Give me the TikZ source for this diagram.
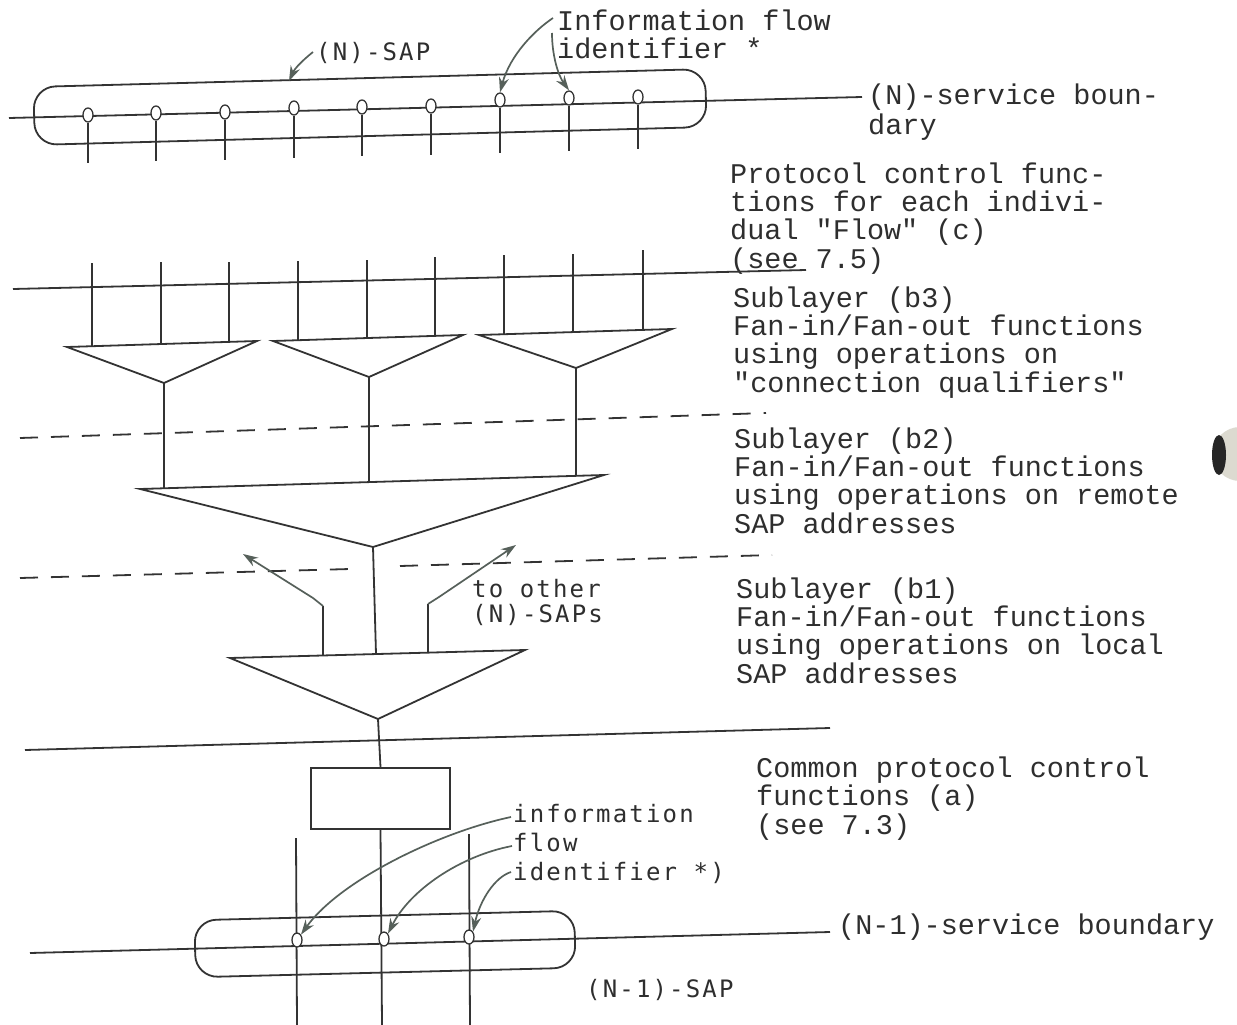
\documentclass[tikz,border=0pt]{standalone}
\usepackage{fontspec}
\usetikzlibrary{shapes.geometric,arrows.meta}
\newfontfamily\cfam{Liberation Mono}
\newfontfamily\gfam{DejaVu Sans Mono}[LetterSpace=9]
\newcommand\cfnt{\cfam\fontsize{28.5}{28.3}\selectfont}
\newcommand\gfnt{\gfam\fontsize{24}{29}\selectfont}
\definecolor{linec}{HTML}{333333}
\definecolor{txtc}{HTML}{2E2E2E}
\definecolor{arrc}{HTML}{56605A}
\definecolor{holec}{HTML}{DCDAD0}
\begin{document}
\begin{tikzpicture}[x=1pt,y=-1pt,
  ln/.style={line width=1.8pt, draw=linec},
  dl/.style={line width=1.8pt, draw=linec, dash pattern=on 18pt off 13pt},
  arr/.style={line width=1.7pt, draw=arrc, -{Stealth[length=15pt,width=10pt]}},
  ctext/.style={font=\cfnt, text=txtc, inner sep=0pt, anchor=base west, align=left},
  gtext/.style={font=\gfnt, text=txtc, inner sep=0pt, anchor=base west, align=left},
  zero/.style={ellipse, draw=linec, line width=1.3pt, fill=white, minimum width=10pt, minimum height=14pt, inner sep=0pt},
  sap/.style={rectangle, draw=linec, line width=1.8pt, rounded corners=22pt, inner sep=0pt},
  boxst/.style={rectangle, draw=linec, line width=1.8pt, inner sep=0pt}]
\fill[white] (0,0) rectangle (1237,1025);
\useasboundingbox (0,0) rectangle (1237,1025);
% punch hole
\fill[holec] (1240,454) circle (27pt);
\fill[black!85] (1219,455) ellipse [x radius=7pt, y radius=20pt];

% ===== top (N)-SAP =====
\node[sap, minimum width=672pt, minimum height=58pt, rotate=1.53] (nsap) at (370,107) {};
\coordinate (nb1) at (9,118);
\coordinate (nb2) at (862,97);
\draw[ln] (nb1) -- (nb2);
\foreach \x/\y/\i in {88/115/1,156/113/2,225/112/3,294/108/4,362/107/5,431/106/6,500/100/7,569/98/8,638/97/9}{
  \pgfmathsetmacro\yb{163-0.0246*(\x-88)}
  \coordinate (zb\i) at (\x,\yb);
  \node[zero] (z\i) at (\x,\y) {};
  \draw[ln] (z\i.south) -- (zb\i);
}
\node[ctext] (nsb) at (868,134) {(N)-service boun-\\[1.5pt]dary};
\node[gtext] (nsaplbl) at (316,60) {(N)-SAP};
\coordinate (nsapt) at (313,52);
\coordinate (nsaph) at (289,81);
\draw[arr] (nsapt) .. controls (303,60) and (295,68) .. (nsaph);
\node[ctext, font=\cfam\fontsize{28.5}{28}\selectfont] (info) at (557,59) {Information flow\\identifier *};
\coordinate (it1) at (553,18);
\coordinate (it2) at (552,33);
\draw[arr] (it1) .. controls (535,30) and (510,55) .. (z7.north);
\draw[arr] (it2) .. controls (552,55) and (558,75) .. (z8.north);

% ===== protocol control functions text =====
\node[ctext] (pcf) at (730,268) {Protocol control func-\\tions for each indivi-\\dual "Flow" (c)\\(see 7.5)};

% ===== b3 =====
\coordinate (b3l) at (13,289);
\coordinate (b3r) at (806,270);
\draw[ln] (b3l) -- (b3r);
% triangles
\coordinate (t1a) at (67,347); \coordinate (t1b) at (257,341); \coordinate (t1c) at (164,383);
\coordinate (t2a) at (273,341); \coordinate (t2b) at (463,335); \coordinate (t2c) at (369,377);
\coordinate (t3a) at (479,335); \coordinate (t3b) at (672,329); \coordinate (t3c) at (576,368);
\draw[ln, line join=miter] (t1a) -- (t1b) -- (t1c) -- cycle;
\draw[ln, line join=miter] (t2a) -- (t2b) -- (t2c) -- cycle;
\draw[ln, line join=miter] (t3a) -- (t3b) -- (t3c) -- cycle;
\foreach \x/\yt/\yb/\i in {92/263/346.2/1,161/262/344/2,229/262/341.9/3,298/261/340.2/4,367/260/338/5,435/257/335.9/6,504/255/334.2/7,573/254/332.1/8,643/250/329.9/9}{
  \coordinate (vt\i) at (\x,\yt);
  \coordinate (vb\i) at (\x,\yb);
  \draw[ln] (vt\i) -- (vb\i);
}
\node[ctext] (b3t) at (733,392) {Sublayer (b3)\\Fan-in/Fan-out functions\\using operations on\\"connection qualifiers"};

% dashed 1
\coordinate (d1a) at (20,438);
\coordinate (d1b) at (766,413);
\draw[dl] (d1a) -- (d1b);

% ===== b2 =====
\coordinate (b2a) at (140,489); \coordinate (b2b) at (604,475); \coordinate (b2c) at (373,547);
\draw[ln, line join=miter] (b2a) -- (b2b) -- (b2c) -- cycle;
\coordinate (m1) at (164,488.2); \coordinate (m2) at (369,482.1); \coordinate (m3) at (576,475.8);
\draw[ln] (t1c) -- (m1);
\draw[ln] (t2c) -- (m2);
\draw[ln] (t3c) -- (m3);
\node[ctext] (b2t) at (734,533) {Sublayer (b2)\\Fan-in/Fan-out functions\\using operations on remote\\SAP addresses};

% dashed 2
\coordinate (d2a) at (20,578); \coordinate (d2b) at (350,569);
\coordinate (d2c) at (400,566); \coordinate (d2d) at (772,555);
\draw[dl] (d2a) -- (d2b);
\draw[dl] (d2c) -- (d2d);

% ===== b1 =====
\coordinate (b1a) at (230,658); \coordinate (b1b) at (525,650); \coordinate (b1c) at (378,719);
\draw[ln, line join=miter] (b1a) -- (b1b) -- (b1c) -- cycle;
\coordinate (b1m) at (376,654);
\draw[ln] (b2c) -- (b1m);
\coordinate (al0) at (323,655.5); \coordinate (al1) at (323,606); \coordinate (al2) at (313,598); \coordinate (alt) at (243,554);
\coordinate (ar0) at (428,652.6); \coordinate (ar1) at (428,604); \coordinate (ar2) at (439,597); \coordinate (art) at (516,545);
\draw[ln] (al0) -- (al1);
\draw[ln] (ar0) -- (ar1);
\draw[arr] (al1) -- (al2) -- (alt);
\draw[arr] (ar1) -- (ar2) -- (art);
\node[gtext, font=\gfam\fontsize{24}{25}\selectfont] (toother) at (472,622) {to other\\(N)-SAPs};
\node[ctext] (b1t) at (736,683) {Sublayer (b1)\\Fan-in/Fan-out functions\\using operations on local\\SAP addresses};

% ===== bottom boundary of b1 =====
\coordinate (la) at (25,750); \coordinate (lb) at (830,728);
\draw[ln] (la) -- (lb);

% ===== common protocol control box =====
\node[boxst, minimum width=139pt, minimum height=61pt] (box) at (380.5,798.5) {};
\draw[ln] (b1c) -- (box.north);
\node[ctext] (cpc) at (756,834) {Common protocol control\\functions (a)\\(see 7.3)};

% ===== (N-1)-SAP =====
\node[sap, minimum width=380pt, minimum height=57pt, rotate=1.43] (msap) at (385,944) {};
\coordinate (mb1) at (30,953); \coordinate (mb2) at (830,932);
\draw[ln] (mb1) -- (mb2);
\coordinate (bt1) at (296,838); \coordinate (bb1) at (297,1025);
\coordinate (bb2) at (382,1025);
\coordinate (bt3) at (469,834); \coordinate (bb3) at (470,1025);
\draw[ln] (bt1) -- (bb1);
\draw[ln] (box.south) -- (bb2);
\draw[ln] (bt3) -- (bb3);
\node[zero] (y1) at (297,940) {};
\node[zero] (y2) at (384,939) {};
\node[zero] (y3) at (469,937) {};
\node[ctext] (nmsb) at (838,934) {(N-1)-service boundary};
\node[gtext] (nmsaplbl) at (586,997) {(N-1)-SAP};
\node[gtext] (infob) at (513,880) {information\\flow\\identifier *)};
\coordinate (ib1) at (511,817);
\coordinate (ib2) at (512,846);
\coordinate (ib3) at (511,872);
\draw[arr] (ib1) .. controls (440,832) and (340,880) .. (y1.north east);
\draw[arr] (ib2) .. controls (460,856) and (410,890) .. (y2.north east);
\draw[arr] (ib3) .. controls (495,877) and (480,900) .. (y3.north east);
\end{tikzpicture}
\end{document}
